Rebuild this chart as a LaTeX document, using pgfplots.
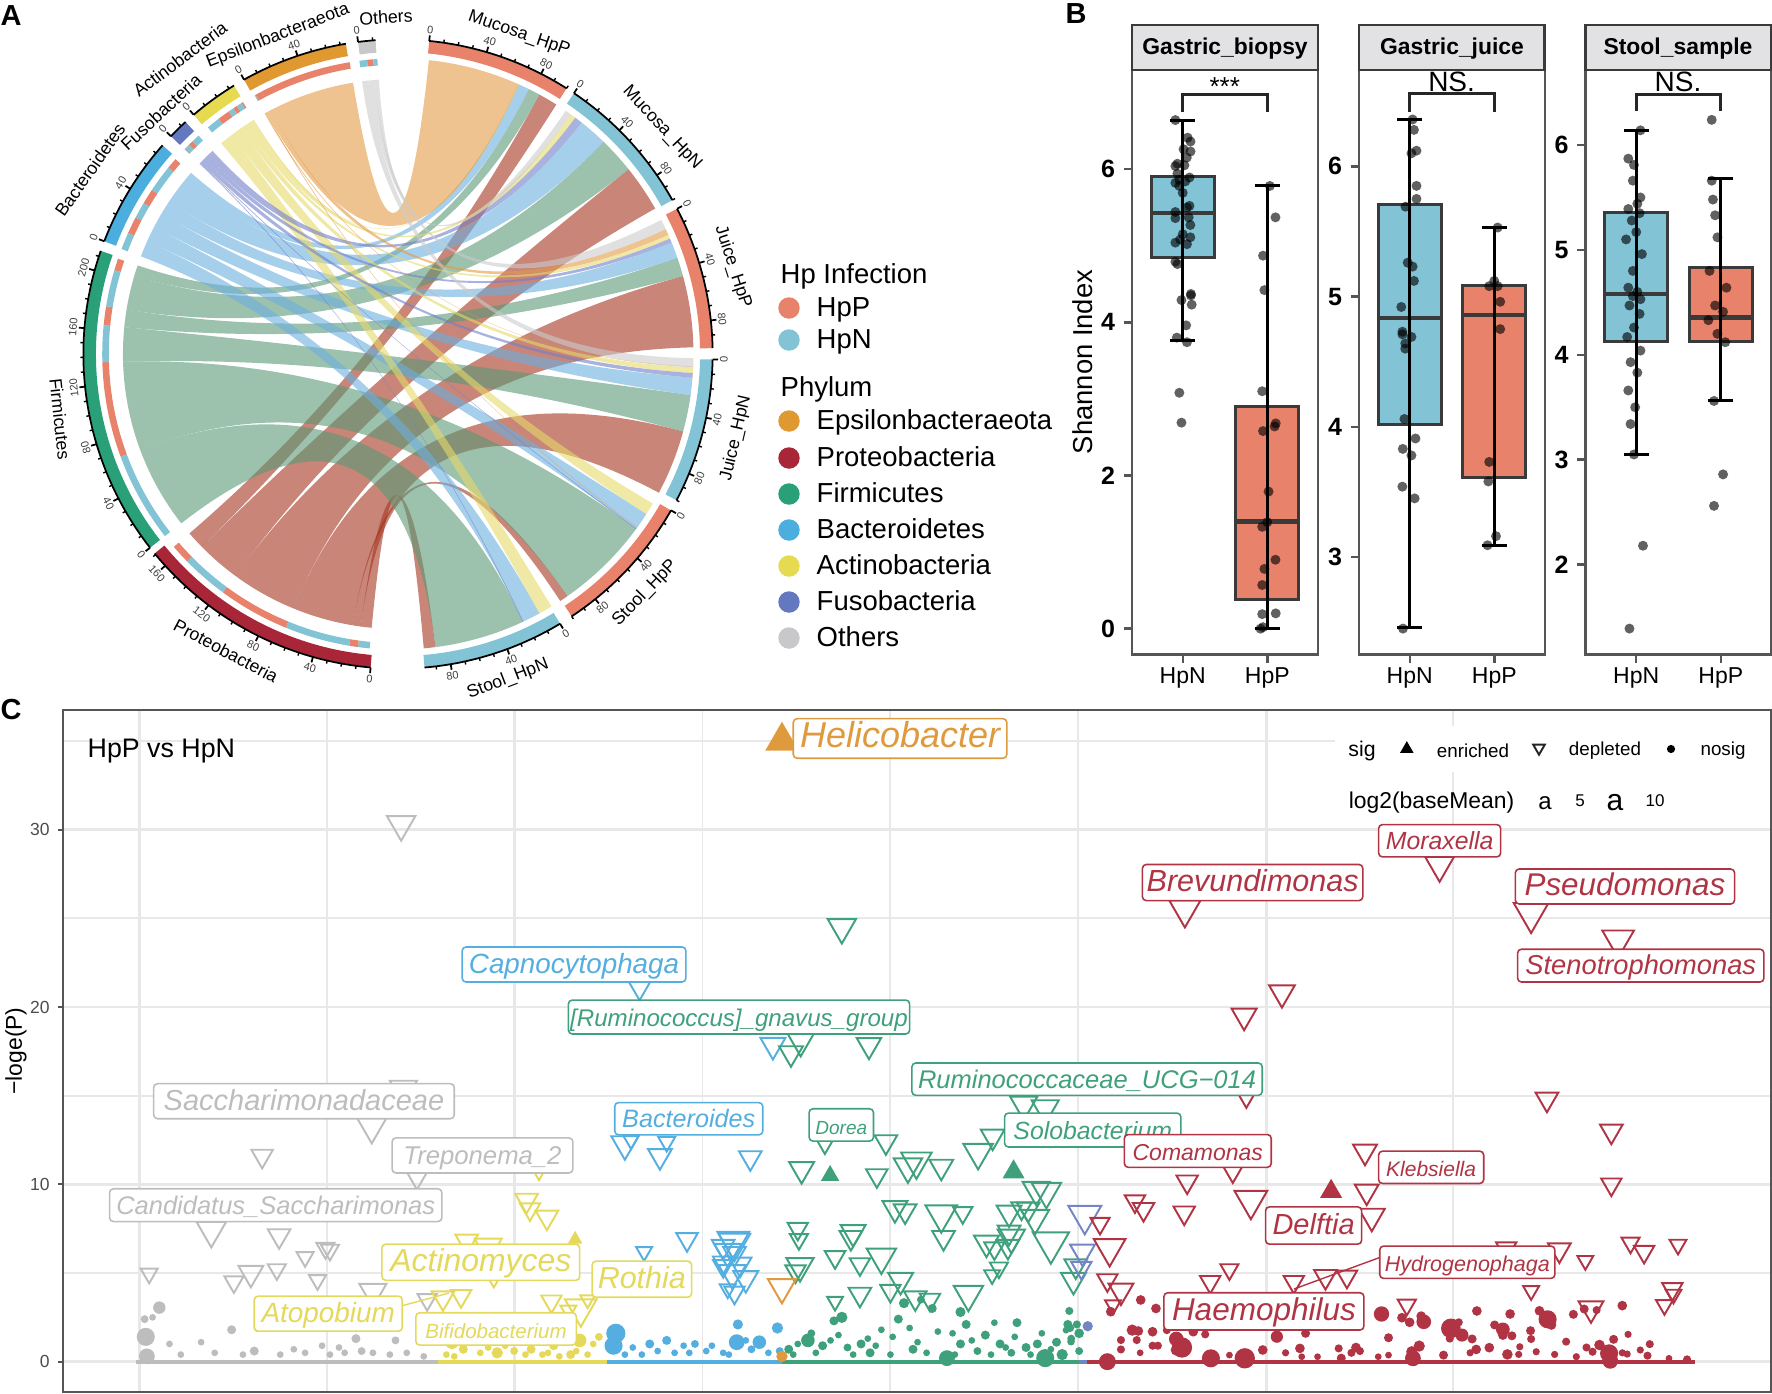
\documentclass[border=0pt]{standalone}
\usepackage{fontspec}
\setmainfont{Liberation Sans}
\usepackage{pgfplots}
\usepackage{pgfplotstable}
\pgfplotsset{compat=1.18}

% font size given in reference pixels (1 px = 0.1 mm)
\newcommand\fs[1]{\fontsize{\fpeval{#1*0.2845}pt}{\fpeval{#1*0.3}pt}\selectfont}

\definecolor{hpp}{HTML}{E8826B}
\definecolor{hpn}{HTML}{82C4D5}
\definecolor{cEps}{HTML}{E09830}
\definecolor{cPro}{HTML}{A82638}
\definecolor{cFir}{HTML}{2AA078}
\definecolor{cBac}{HTML}{4CADDF}
\definecolor{cAct}{HTML}{E5DA50}
\definecolor{cFus}{HTML}{6478C0}
\definecolor{cOth}{HTML}{C8C8CA}
\definecolor{rEps}{HTML}{E49B44}
\definecolor{rPro}{HTML}{A3341E}
\definecolor{rFir}{HTML}{5A9976}
\definecolor{rBac}{HTML}{6BAFDF}
\definecolor{rAct}{HTML}{E6D969}
\definecolor{rFus}{HTML}{707FCA}
\definecolor{rOth}{HTML}{CBCBCB}
\definecolor{tPro}{HTML}{B03444}
\definecolor{tFir}{HTML}{3FA07C}
\definecolor{tBac}{HTML}{54AEE0}
\definecolor{tAct}{HTML}{E4D95A}
\definecolor{tOth}{HTML}{BDBDBD}
\definecolor{tEps}{HTML}{E09A3E}
\definecolor{tFus}{HTML}{7385C5}
\definecolor{frame}{HTML}{555555}
\definecolor{boxg}{HTML}{3A3A3A}
\definecolor{stripg}{HTML}{E2E2E4}
\definecolor{gridg}{HTML}{E8E8E8}

% chord geometry: centre (398,354), radius 314 px, angles clockwise from north
\newcommand\PT[2]{(axis cs:{398+314*#1*sin(#2)},{354-314*#1*cos(#2)})}
\newcommand\ARC[4]{.. controls (axis cs:{398+314*#1*(sin(#2)+#4*cos(#2))},{354-314*#1*(cos(#2)-#4*sin(#2))}) and (axis cs:{398+314*#1*(sin(#3)-#4*cos(#3))},{354-314*#1*(cos(#3)+#4*sin(#3))}) .. \PT{#1}{#3}}
\newcommand\xpath[2]{\edef\tmppath{#2}\path[#1] \tmppath;}

% phylum a1 a2, sample b1 b2, ribbon colour, colour in the second track
\newcommand\ribbon[6]{\pgfplotsextra{%
  \pgfmathsetmacro\ka{4/3*tan((#2-#1)/4)}%
  \pgfmathsetmacro\kb{4/3*tan((#4-#3)/4)}%
  \pgfmathsetmacro\kc{-\ka}%
  \xpath{fill=#5,fill opacity=.6}{\PT{.876}{#1} \ARC{.876}{#1}{#2}{\ka} .. controls \PT{.292}{#2} and \PT{.3137}{#3} .. \PT{.941}{#3} \ARC{.941}{#3}{#4}{\kb} .. controls \PT{.3137}{#4} and \PT{.292}{#1} .. \PT{.876}{#1} -- cycle}%
  \xpath{fill=#6}{\PT{.942}{#1} \ARC{.942}{#1}{#2}{\ka} -- \PT{.921}{#2} \ARC{.921}{#2}{#1}{\kc} -- cycle}%
}}
% outer band with its axis; N = length in units
\newcommand\sector[3]{\pgfplotsextra{%
  \pgfmathsetmacro\endang{#1+#2*.267}%
  \pgfmathsetmacro\ka{4/3*tan((\endang-#1)/4)}%
  \pgfmathsetmacro\kc{-\ka}%
  \xpath{fill=#3}{\PT{1}{#1} \ARC{1}{#1}{\endang}{\ka} -- \PT{.962}{\endang} \ARC{.962}{\endang}{#1}{\kc} -- cycle}%
  \xpath{draw=black,line width=.5pt}{\PT{1.002}{#1} \ARC{1.002}{#1}{\endang}{\ka}}%
  \foreach \uu in {0,10,...,#2}{%
    \pgfmathsetmacro\tang{#1+\uu*.267}%
    \pgfmathtruncatemacro\mm{mod(\uu,40)}%
    \ifnum\mm=0
      \xpath{draw=black,line width=.5pt}{\PT{1.002}{\tang} -- \PT{1.02}{\tang}}%
      \pgfmathsetmacro\rott{\tang<90?-\tang:(\tang<250?180-\tang:360-\tang)}%
      \edef\lblpt{\PT{1.038}{\tang}}%
      \path \lblpt node[rotate=\rott,font=\fs{11},text=black!75,inner sep=0pt]{\uu};%
    \else
      \xpath{draw=black,line width=.4pt}{\PT{1.002}{\tang} -- \PT{1.012}{\tang}}%
    \fi
  }%
}}
\newcommand\tx[5]{\node[rotate=#3,font=\fs{#4},inner sep=0pt] at (axis cs:#1,#2) {#5};}
\newcommand\txl[4]{\node[anchor=west,font=\fs{#3},inner sep=0pt] at (axis cs:#1,#2) {\strut #4};}
\newcommand\lkey[2]{\addplot[only marks,mark=*,mark size=2.85pt,color=#2] coordinates {(789,#1)};}
% boxed italic labels of panel C, box centre and size in 1568-wide picture units
\newcommand\lab[7]{\node[draw=#6,text=#6,fill=white,rounded corners=1.1pt,line width=.45pt,inner sep=0pt,text height=.72em,text depth=.2em,minimum width=#3*.113mm,minimum height=#4*.113mm,font=\itshape\fs{#5}] at (axis cs:{#1*1.13},{#2*1.13}) {#7};}

% panel B: q1 median q3 lower upper
\newcommand\boxN[5]{%
  \addplot[fill=hpn,draw=boxg,line width=.85pt,line join=miter] coordinates {(.625,#1)(.625,#3)(1.375,#3)(1.375,#1)(.625,#1)(.625,#3)};
  \addplot[draw=boxg,line width=1.25pt] coordinates {(.625,#2)(1.375,#2)};
  \addplot[draw=black,line width=.85pt] coordinates {(1,#4)(1,#5)};
  \addplot[draw=black,line width=.85pt] coordinates {(.85,#4)(1.15,#4)};
  \addplot[draw=black,line width=.85pt] coordinates {(.85,#5)(1.15,#5)};
}
\newcommand\boxP[5]{%
  \addplot[fill=hpp,draw=boxg,line width=.85pt,line join=miter] coordinates {(1.625,#1)(1.625,#3)(2.375,#3)(2.375,#1)(1.625,#1)(1.625,#3)};
  \addplot[draw=boxg,line width=1.25pt] coordinates {(1.625,#2)(2.375,#2)};
  \addplot[draw=black,line width=.85pt] coordinates {(2,#4)(2,#5)};
  \addplot[draw=black,line width=.85pt] coordinates {(1.85,#4)(2.15,#4)};
  \addplot[draw=black,line width=.85pt] coordinates {(1.85,#5)(2.15,#5)};
}
\pgfplotsset{
  facet/.style={anchor=south west,scale only axis,width=18.6mm,height=58.45mm,
    xmin=.4,xmax=2.6,xtick={1,2},xticklabels={HpN,HpP},
    xtick pos=bottom,ytick pos=left,tick align=outside,major tick length=2.3pt,
    axis line style={draw=frame,line width=.6pt},tick style={draw=frame,line width=.7pt},
    /pgf/number format/assume math mode=true,
    xticklabel style={font=\fs{23},yshift=2pt},yticklabel style={font=\bfseries\fs{25},xshift=1pt},
    clip=false},
  jit/.style={only marks,mark=*,mark size=1.42pt,mark options={fill=black,draw opacity=0,fill opacity=.62}},
  tri/.style={only marks,scatter,scatter src=y,mark=triangle,
    scatter/use mapped color={draw=#1,fill=none},
    visualization depends on={\thisrow{s}*0.186 \as \ms},
    scatter/@pre marker code/.append style={/tikz/mark size=\ms},
    mark options={rotate=180,line width=.55pt}},
  dots/.style={only marks,scatter,scatter src=y,mark=*,
    scatter/use mapped color={draw=#1,fill=#1},
    visualization depends on={\thisrow{s}*0.3215 \as \ms},
    scatter/@pre marker code/.append style={/tikz/mark size=\ms},
    mark options={draw opacity=0}},
}

% panel B jitter points
\pgfplotstableread{
.913 6.64
1.058 6.41
1.092 6.36
1.01 6.26
1.092 6.23
1.048 6.15
.937 6.07
1.02 6.05
.913 6.04
.937 5.94
1.08 5.89
.96 5.86
1.03 5.84
.913 5.82
.96 5.78
1.0 5.69
1.08 5.52
1.05 5.50
.913 5.44
.913 5.36
1.07 5.37
1.09 5.27
1.0 5.15
1.09 5.11
.913 5.04
.97 5.08
1.05 5.02
.913 4.79
.937 4.76
1.097 4.35
1.097 4.37
.985 4.29
1.106 4.23
1.04 3.96
.93 3.80
1.05 3.74
.96 3.08
.985 2.69
2.03 5.78
2.097 5.37
1.95 4.87
1.966 4.42
1.94 3.10
2.10 2.68
2.087 2.64
1.95 2.58
2.015 1.79
2.0 1.39
1.94 1.33
2.097 .90
1.966 .78
1.94 .57
2.10 .20
1.94 .19
1.92 0
1.95 .02
}\ptsA
\pgfplotstableread{
1.034 6.36
1.05 6.28
1.08 6.12
1.02 6.10
1.08 5.85
1.08 5.75
.95 5.69
.976 5.26
1.034 5.23
1.05 5.12
.90 4.92
.913 4.73
.913 4.71
1.02 4.69
.947 4.64
.947 4.60
.937 4.06
1.068 3.91
.918 3.83
1.02 3.78
.913 3.54
1.058 3.45
.92 2.45
2.04 5.53
2 5.12
1.94 5.08
2.04 5.08
2.07 4.96
2.07 4.75
1.94 3.73
1.93 3.58
2.02 3.16
1.92 3.09
}\ptsB
\pgfplotstableread{
1.05 6.14
.906 5.87
.973 5.81
.96 5.66
1.05 5.5
1.013 5.44
.906 5.39
1.04 5.35
.947 5.28
1 5.17
.88 5.1
1.067 4.96
.96 4.8
.906 4.64
1.013 4.6
.96 4.56
1.05 4.53
.92 4.47
1.04 4.39
.973 4.26
.893 4.17
1.05 4.04
.933 3.93
1.013 3.83
.906 3.66
.987 3.5
.933 3.34
.973 3.05
1.08 2.18
.92 1.39
1.893 6.24
1.893 5.66
1.907 5.48
1.933 5.33
1.96 5.12
1.867 4.8
2.067 4.64
1.933 4.47
2.027 4.41
1.853 4.33
1.96 4.2
2.053 4.12
1.92 3.56
2.027 2.86
1.92 2.56
}\ptsC

% panel C: x in 1568-wide picture units, -log(P), base width or radius
\pgfplotstableread{
x y s
355 30.3 25
232 11.6 19
329 13.3 27
357 15.4 24
369 10.7 27
187 7.4 26
247 7.1 20
132 4.97 15
222 5.0 22
207 4.5 17
245 5.2 16
270 5.9 15
288 6.4 16
292 6.3 16
281 4.6 15
330 3.95 24
378 3.5 17
}\triOth
\pgfplotstableread{
x y s
466 9.1 20
469 8.6 18
484 8.15 20
477 10.6 10
413 6.8 20
432 6.5 24
408 3.7 18
392 3.6 20
437 4.7 14
488 3.4 18
520 3.5 13
514 3.0 28
503 2.9 14
}\triAct
\pgfplotstableread{
x y s
566 21.3 25
684 17.85 22
553 12.27 24
558.5 12.5 14
590 12.4 15
584 11.6 21
664 11.5 20
608 6.9 19
570 6.2 14
649 6.8 28
650 6.7 28
640 6.5 20
644 6.2 24
650 6.1 20
640 5.6 18
655 5.5 20
640 5.4 18
648 5.0 24
660 4.7 22
650 3.9 18
644 4.1 14
}\triBac
\pgfplotstableread{
x y s
745 24.5 25
708.6 18.1 24
700 17.4 21
769 17.85 21.5
730 12.3 16
784 12.4 20
709.4 10.85 22
776 10.5 19
803.5 11.0 25
811 11.3 27
833 11.0 21
865.6 11.8 26
878.5 12.7 21
906 14.5 24
925 14.3 24
917 9.7 24
926 9.6 26
706 7.5 18
707 6.9 16
755 7.3 22
753 7.0 20
792 8.65 22
801 8.5 20
833 8.3 28
852 8.4 17
835 7.0 20
893 8.4 22
904 8.65 18
916 8.1 25
893 7.3 20
873 6.7 22
880 6.4 18
895 7.0 24
892 6.5 20
878 4.9 14
884 5.3 16
930 6.7 32
910 8.6 20
950 4.6 22
952 5.4 20
857 3.8 26
823 3.5 18
780 5.9 26
739 5.9 18
761 5.5 18
708 5.4 24
704 5.1 18
797 4.6 22
788 4.0 18
761 3.8 20
739 3.4 14
810 3.6 20
}\triFir
\pgfplotstableread{
x y s
960 8.25 29
958 6.2 22
957 5.3 18
}\triFus
\pgfplotstableread{
x y s
973.5 7.8 17
1004.4 9.05 18
1012 8.6 19
1050.6 10.15 19
1048 8.4 19
1091 10.7 17
1107 9.1 29
1208 11.85 21
1209.5 9.6 21
1214 8.2 23
1103 14.9 16
1369 14.8 20
1048.6 25.5 27.5
1274 28.0 25.5
1355 25.3 30.7
1432 23.8 28
1134.5 20.8 22.6
1101 19.5 22
1426 13.0 20
1426 10.0 18
1443 6.7 16
1455 6.2 18
1485 6.6 15
1403 5.7 14
1380 6.3 20
1333 6.4 18
1480 4.1 18
1481 3.8 14
1473 3.2 15
1408 3.0 22
1245 3.2 16
1173 4.8 20
1192 4.8 18
1145 4.5 18
1088 5.2 16
1071 4.5 18
1360 5.4 12
1355 4.0 14
982 6.4 28
980 4.6 18
992 4.0 22
985 3.2 14
}\triPro
\pgfplotstableread{
x y s
129 1.4 8
141 3.05 5.5
135 2.5 3
128 2.4 3.5
130 0.3 7
150 1 3
178 1.1 3
205 1.8 4
225 .6 4
228 1.9 3.5
248 0.4 3
270 .5 3
285 .9 3
300 .8 3
315 1.3 4
320 .6 3.5
305 .5 3
345 .4 3
350 1.2 3.5
360 .5 3
375 .3 3
160 .4 3
190 .5 3
215 .4 3
260 .7 3
292 .4 3
330 .5 3
}\dotOth
\pgfplotstableread{
x y s
400 1.1 6
410 .7 4
425 .5 3
440 .5 5
455 .6 3.5
470 .7 4
480 .4 3
490 .9 4
500 1.3 4
513 1.2 6
520 .4 3
530 1.4 3.5
505 .4 4
395 .4 3
460 1.5 3
402 .3 3
415 1.2 3
432 .8 3
447 .9 3
465 .4 3
475 1.2 3
485 .5 3
495 .3 3
510 .6 3
525 1.0 3
}\dotAct
\pgfplotstableread{
x y s
545 1.6 8.5
543 .9 8
560 .8 3
575 1.0 4
590 1.2 4
605 .9 3
615 1.0 3.5
625 .6 3
640 .5 3
652 1.1 7
653 2.1 4.5
672 1.1 6
688 1.9 5
690 .6 3.5
665 .7 3.5
610 .5 3
553 .4 3
568 .4 3
582 .6 3
597 .5 3
630 .9 3
645 .4 3
660 1.2 3
680 .5 3
}\dotBac
\pgfplotstableread{
x y s
698 .7 4
702 .4 3
715 1.2 6
718 1.6 3.5
728 .9 4
738 2.3 4
745 2.5 5
750 .8 3.5
762 1.0 4
770 .5 4
780 1.8 3
795 2.4 4
800 3.3 4.5
808 .7 4
815 3.5 3.5
825 3 4
838 .2 7
850 2.8 4.5
855 2.1 4
850 1 4
865 .6 3.5
872 1.5 4
885 1.0 4
895 .5 3.5
900 2.2 4
908 .8 4
918 1.0 4
925 .2 8
935 1.1 4
945 2.1 4
948 1.3 3.5
940 .4 5
955 .6 3.5
706 1.0 3
722 .5 3
735 1.2 3
742 1.5 3
755 .4 3
768 1.3 3
775 .9 3
788 .4 3
790 1.4 3
805 1.9 3
812 1.1 3
820 .5 3
830 1.7 3
845 .4 3
843 1.6 3
860 1.2 3
877 .4 3
880 2.2 3
890 .8 3
898 1.4 3
912 .4 3
922 1.6 3
930 .7 3
946.3 2.86 3.6
953 2.1 3.6
947 1.9 3.6
943.4 1.78 3
955 1.6 4.3
947.8 1.13 3.4
}\dotFir
\pgfplotstableread{
x y s
980 0 7.5
983 2.82 4.3
1009.5 3.48 4.3
1023 3.0 4.3
992 1.22 3.6
992 .69 3.6
1002 1.78 5
1007.4 1.73 4.3
1020 1.69 4.3
1032.6 1.78 3.6
1006 1.22 3.6
1009 .5 3
1020 .9 3.6
1024.7 .9 3.6
1041 1.28 6.5
1046 .8 9
1041 .66 5
1056 1.69 4.3
1066.6 1.54 3.6
1071.6 .19 8
1088 .37 3
1101.6 .19 9
1117.5 .66 4.3
1130 1.41 5.4
1137.7 .5 3.2
1155.4 1.6 4
1150.4 .75 4.3
1152 .28 3
1166 .28 3
1184.7 .75 3.6
1187 .2 4
1200 .8 4.3
1196 .5 3.6
1203.5 .6 3.6
1228.8 1.35 4
1219.7 .28 3
1228.8 .37 3
1222.6 2.69 6.8
1240.7 2.48 4.3
1247.5 2.22 4.3
1257.7 2.57 4.3
1260 2.25 6.5
1256 .88 5
1249.4 .56 5
1250.4 .19 7
1277.5 .37 4
1284 1.88 8.7
1293.8 1.5 5.8
1291 2.22 3.6
1283 1.3 3.6
1302.8 1.28 4
1307 2.86 4.3
1306.4 .69 4.3
1301 .5 3.2
1318 .79 4.3
1334 .41 4.7
1336.4 2.69 4.3
1322.7 2.07 4
1330 1.82 6.1
1338 1.46 4
1330 1.5 4.3
1345 .84 3.2
1344 .41 3.2
1354.5 1.75 4
1355 1.28 3.6
1359.5 .56 3.2
1362.4 2.87 4.3
1369.6 2.39 8
1373 2.07 4.3
1392.4 2.67 4
1402 2.97 4
1413 2.91 3.6
1435.7 3.16 4.3
1386 1.13 3.6
1375.8 .41 3.2
1415.5 .94 4.7
1428 1.26 4
1440.8 1.54 3.2
1404 .8 3.6
1409.4 .56 3.6
1424 .47 8
1425 .05 7
1435.7 .5 3.2
1440 .43 3.2
1451.6 .66 3.2
1460 .99 3.6
1458 .34 3.6
1477 .19 3
1493 .13 3.6
1395 .28 3.2
}\dotPro

\begin{document}
\begin{tikzpicture}
\path[use as bounding box] (0,0) rectangle (177.2mm,139.3mm);

% ---- panel C
\begin{axis}[at={(6.3mm,.1mm)},anchor=south west,scale only axis,width=170.8mm,height=68.2mm,
  xmin=55.75,xmax=1567.3,ymin=-1.71,ymax=36.75,
  xtick={123.6,455.5,787.6,1120.7},minor xtick={289.4,621.7,953.7,1286},xticklabels={},
  ytick={0,10,20,30},minor ytick={5,15,25,35},
  grid=both,major grid style={draw=gridg,line width=.8pt},minor grid style={draw=gridg,line width=.5pt},
  xtick style={draw=none},minor tick length=0pt,ytick pos=left,tick align=outside,
  ytick style={draw=frame,line width=.6pt},major tick length=1.5pt,
  axis line style={draw=frame,line width=.6pt},
  /pgf/number format/assume math mode=true,
  yticklabel style={font=\fs{17.5},text=black!70,xshift=1.2pt},
  axis on top=false]
\addplot[tOth,line width=1.1pt] coordinates {(120,0)(388,0)};
\addplot[tAct,line width=1.1pt] coordinates {(388,0)(537,0)};
\addplot[tBac,line width=1.1pt] coordinates {(537,0)(692,0)};
\addplot[tFir,line width=1.1pt] coordinates {(692,0)(958,0)};
\addplot[tFus,line width=1.1pt] coordinates {(955,0)(962,0)};
\addplot[tPro,line width=1.1pt] coordinates {(962,0)(1500,0)};
\addplot[dots=tOth] table[x=x,y=y] {\dotOth};
\addplot[dots=tAct] table[x=x,y=y] {\dotAct};
\addplot[dots=tBac] table[x=x,y=y] {\dotBac};
\addplot[dots=tFir] table[x=x,y=y] {\dotFir};
\addplot[dots=tPro] table[x=x,y=y] {\dotPro};
\addplot[only marks,mark=*,mark size=1.25pt,color=tFus] coordinates {(962.6,2.0)};
\addplot[only marks,mark=*,mark size=1.4pt,color=tEps] coordinates {(692,.3)};
\addplot[tri=tOth] table[x=x,y=y] {\triOth};
\addplot[tri=tAct] table[x=x,y=y] {\triAct};
\addplot[tri=tBac] table[x=x,y=y] {\triBac};
\addplot[tri=tFir] table[x=x,y=y] {\triFir};
\addplot[tri=tFus] table[x=x,y=y] {\triFus};
\addplot[tri=tPro] table[x=x,y=y] {\triPro};
\addplot[only marks,mark=triangle,mark size=4.6pt,color=tEps,mark options={rotate=180,line width=.55pt}] coordinates {(692,4.2)};
\addplot[only marks,mark=triangle*,mark size=5.1pt,color=tEps] coordinates {(692,35.0)};
\addplot[only marks,mark=triangle*,mark size=2.6pt,color=tFir] coordinates {(734.6,10.5)};
\addplot[only marks,mark=triangle*,mark size=3.2pt,color=tFir] coordinates {(897,10.7)};
\addplot[only marks,mark=triangle*,mark size=3.2pt,color=tPro] coordinates {(1178,9.6)};
\addplot[only marks,mark=triangle*,mark size=2pt,color=tAct] coordinates {(509,6.9)};
\end{axis}

% ---- panel B
\begin{axis}[facet,at={(113.2mm,73.85mm)},ymin=-.337,ymax=7.294,ytick={0,2,4,6}]
\boxN{4.84}{5.43}{5.90}{3.76}{6.64}
\boxP{.375}{1.40}{2.90}{0}{5.78}
\addplot[jit] table {\ptsA};
\addplot[draw=black!85,line width=.85pt] coordinates {(1,6.75)(1,6.98)(2,6.98)(2,6.75)};
\end{axis}
\begin{axis}[facet,at={(135.9mm,73.85mm)},ymin=2.251,ymax=6.74,ytick={3,4,5,6}]
\boxN{4.02}{4.833}{5.705}{2.455}{6.358}
\boxP{3.612}{4.86}{5.085}{3.09}{5.528}
\addplot[jit] table {\ptsB};
\addplot[draw=black!85,line width=.85pt] coordinates {(1,6.42)(1,6.556)(2,6.556)(2,6.42)};
\end{axis}
\begin{axis}[facet,at={(158.55mm,73.85mm)},ymin=1.143,ymax=6.715,ytick={2,3,4,5,6}]
\boxN{4.13}{4.58}{5.357}{3.05}{6.14}
\boxP{4.13}{4.355}{4.83}{3.56}{5.68}
\addplot[jit] table {\ptsC};
\addplot[draw=black!85,line width=.85pt] coordinates {(1,6.32)(1,6.486)(2,6.486)(2,6.32)};
\end{axis}

% ---- page overlay in reference pixels: panel A, legends, labels
\begin{axis}[at={(0mm,0mm)},anchor=south west,scale only axis,width=177.2mm,height=139.3mm,
  xmin=0,xmax=1772,ymin=0,ymax=1393,y dir=reverse,hide axis,clip=false]

% chords
\ribbon{185.5}{187.8}{172.7}{175}{rPro}{hpn}
\ribbon{187.8}{189.5}{145}{146.7}{rPro}{hpp}
\ribbon{189.5}{202.3}{105.2}{118}{rPro}{hpn}
\ribbon{202.3}{216.3}{74.7}{88.7}{rPro}{hpp}
\ribbon{216.3}{225.5}{51.3}{60.5}{rPro}{hpn}
\ribbon{225.5}{229.3}{28.6}{32.4}{rPro}{hpp}
\ribbon{232}{249.7}{155}{172.7}{rFir}{hpn}
\ribbon{249.7}{268.4}{126.3}{145}{rFir}{hpp}
\ribbon{268.4}{275.6}{98}{105.2}{rFir}{hpn}
\ribbon{275.6}{279.3}{71}{74.7}{rFir}{hpp}
\ribbon{279.3}{286.5}{44.1}{51.3}{rFir}{hpn}
\ribbon{286.5}{288.8}{26.3}{28.6}{rFir}{hpp}
\ribbon{290.8}{294.2}{151.4}{155}{rBac}{hpn}
\ribbon{294.2}{297.5}{122.8}{126.3}{rBac}{hpp}
\ribbon{297.5}{300.7}{94.6}{98}{rBac}{hpn}
\ribbon{300.7}{303.7}{67.8}{71}{rBac}{hpp}
\ribbon{303.7}{309.1}{38.4}{44.1}{rBac}{hpn}
\ribbon{309.1}{311.2}{24.1}{26.3}{rBac}{hpp}
\ribbon{320}{322.7}{148.7}{151.4}{rAct}{hpn}
\ribbon{322.7}{325.1}{120.4}{122.8}{rAct}{hpp}
\ribbon{325.1}{326.2}{92.6}{93.7}{rAct}{hpn}
\ribbon{326.2}{327}{66.2}{67}{rAct}{hpp}
\ribbon{327}{328.1}{35.8}{36.9}{rAct}{hpn}
\ribbon{328.1}{328.4}{24}{24.2}{rAct}{hpp}
\ribbon{313.8}{314}{154.9}{155.05}{rFus}{hpn}
\ribbon{314}{314.2}{126.2}{126.35}{rFus}{hpp}
\ribbon{314.2}{315.1}{93.7}{94.6}{rFus}{hpn}
\ribbon{315.1}{316}{67}{67.8}{rFus}{hpp}
\ribbon{316}{317.6}{36.9}{38.4}{rFus}{hpn}
\ribbon{331}{331.2}{92.4}{92.5}{rEps}{hpn}
\ribbon{331.2}{331.4}{125.9}{126}{rEps}{hpp}
\ribbon{331.4}{332.5}{65}{66.2}{rEps}{hpp}
\ribbon{332.5}{350.6}{6}{24.1}{rEps}{hpp}
\ribbon{352.5}{354}{90.8}{92.6}{rOth}{hpn}
\ribbon{354}{355.2}{63}{65}{rOth}{hpp}
\ribbon{355.2}{356}{34.6}{35.8}{rOth}{hpn}

% sectors: start angle, length in units, colour
\sector{5.7}{100}{hpp}
\sector{34}{100}{hpn}
\sector{62.5}{99}{hpp}
\sector{91}{100}{hpn}
\sector{119.8}{100}{hpp}
\sector{149}{98}{hpn}
\sector{185}{171}{cPro}
\sector{232}{214}{cFir}
\sector{291}{77}{cBac}
\sector{313.8}{14}{cFus}
\sector{319.5}{34}{cAct}
\sector{330.7}{74}{cEps}
\sector{352.7}{12}{cOth}

\tx{519}{34}{-19}{17.7}{Mucosa\_HpP}
\tx{662}{128}{-47}{17.7}{Mucosa\_HpN}
\tx{733}{267}{-72}{17.7}{Juice\_HpP}
\tx{736}{438}{77}{17.7}{Juice\_HpN}
\tx{645}{593}{46}{17.7}{Stool\_HpP}
\tx{508}{679}{21}{17.7}{Stool\_HpN}
\tx{226}{651}{-28}{17.7}{Proteobacteria}
\tx{60}{419}{-84}{17.7}{Firmicutes}
\tx{90}{170}{55}{17.7}{Bacteroidetes}
\tx{161}{112}{43}{17.7}{Fusobacteria}
\tx{180}{59}{37}{17.7}{Actinobacteria}
\tx{278}{36}{21}{17.7}{Epsilonbacteraeota}
\tx{386}{17}{4}{17.7}{Others}

% panel letters
\node[font=\bfseries\fs{29},inner sep=0pt] at (axis cs:11,16) {A};
\node[font=\bfseries\fs{29},inner sep=0pt] at (axis cs:1076,14) {B};
\node[font=\bfseries\fs{29},inner sep=0pt] at (axis cs:11,709) {C};

% legend of panel A
\txl{780}{278}{27.5}{Hp Infection}
\txl{816}{311}{27.5}{HpP}
\txl{816}{343}{27.5}{HpN}
\txl{780}{391}{27.5}{Phylum}
\txl{816}{424}{27.5}{Epsilonbacteraeota}
\txl{816}{461}{27.5}{Proteobacteria}
\txl{816}{497}{27.5}{Firmicutes}
\txl{816}{533}{27.5}{Bacteroidetes}
\txl{816}{569}{27.5}{Actinobacteria}
\txl{816}{605}{27.5}{Fusobacteria}
\txl{816}{641}{27.5}{Others}
\lkey{308}{hpp}
\lkey{340}{hpn}
\lkey{421}{cEps}
\lkey{458}{cPro}
\lkey{494}{cFir}
\lkey{530}{cBac}
\lkey{566}{cAct}
\lkey{602}{cFus}
\lkey{638}{cOth}

% strips of panel B
\addplot[fill=stripg,draw=boxg,line width=.7pt] coordinates {(1132,25)(1318,25)(1318,70)(1132,70)(1132,25)(1318,25)};
\addplot[fill=stripg,draw=boxg,line width=.7pt] coordinates {(1359,25)(1544.7,25)(1544.7,70)(1359,70)(1359,25)(1544.7,25)};
\addplot[fill=stripg,draw=boxg,line width=.7pt] coordinates {(1585.5,25)(1771,25)(1771,70)(1585.5,70)(1585.5,25)(1771,25)};
\node[font=\bfseries\fs{22.9},inner sep=0pt] at (axis cs:1225,49) {Gastric\_biopsy};
\node[font=\bfseries\fs{22.9},inner sep=0pt] at (axis cs:1452,49) {Gastric\_juice};
\node[font=\bfseries\fs{22.9},inner sep=0pt] at (axis cs:1678,49) {Stool\_sample};
\tx{1083}{362}{90}{27.4}{Shannon Index}
\tx{1224.7}{87}{0}{26}{***}
\tx{1451.6}{82}{0}{28}{NS.}
\tx{1678}{82}{0}{28}{NS.}

% panel C text
\tx{16}{1051}{90}{22.9}{−loge(P)}
\txl{87}{752}{26.8}{HpP vs HpN}
\addplot[fill=white,draw=none] coordinates {(1335,726)(1770,726)(1770,772)(1335,772)};
\tx{1362}{751}{0}{21.3}{sig}
\tx{1473}{751}{0}{18.8}{enriched}
\tx{1605}{751}{0}{18.8}{depleted}
\tx{1723}{751}{0}{18.8}{nosig}
\addplot[only marks,mark=triangle*,mark size=1.85pt,color=black] coordinates {(1406.8,749)};
\addplot[only marks,mark=triangle,mark size=1.9pt,color=black!85,mark options={rotate=180,line width=.55pt}] coordinates {(1539,748)};
\addplot[only marks,mark=*,mark size=.95pt,color=black] coordinates {(1671,749)};
\tx{1431.5}{803}{0}{22.9}{log2(baseMean)}
\tx{1545}{803}{0}{24}{a}
\tx{1580}{801}{0}{17}{5}
\tx{1615}{803}{0}{30}{a}
\tx{1655}{801}{0}{17}{10}

% connectors
\addplot[tAct,line width=.4pt] coordinates {(390,1309)(449,1293)};
\addplot[tPro,line width=.4pt] coordinates {(1381,1257)(1294,1289)};

% gene labels
\lab{796.5}{653.5}{189}{35}{36}{tEps}{Helicobacter}
\lab{508}{853.5}{198}{31}{27.8}{tBac}{Capnocytophaga}
\lab{654}{900}{302}{30}{24.1}{tFir}{[Ruminococcus]\_gnavus\_group}
\lab{1108.5}{781}{195}{32}{30.5}{tPro}{Brevundimonas}
\lab{1274}{744}{108}{28}{24.8}{tPro}{Moraxella}
\lab{1438}{784.5}{194}{31}{31.4}{tPro}{Pseudomonas}
\lab{1452}{854.5}{218}{29}{27.3}{tPro}{Stenotrophomonas}
\lab{962}{955}{310}{28}{25.5}{tFir}{Ruminococcaceae\_UCG−014}
\lab{967}{1000}{156}{30}{24.8}{tFir}{Solobacterium}
\lab{609.5}{990}{131}{28}{25.2}{tBac}{Bacteroides}
\lab{744.5}{995.5}{57}{25}{19}{tFir}{Dorea}
\lab{269}{974.5}{266}{31}{29}{tOth}{Saccharimonadaceae}
\lab{427}{1022.5}{160}{31}{25.7}{tOth}{Treponema\_2}
\lab{244}{1066.5}{294}{29}{25.5}{tOth}{Candidatus\_Saccharimonas}
\lab{425.5}{1117}{175}{32}{31.9}{tAct}{Actinomyces}
\lab{568}{1132}{88}{32}{30.5}{tAct}{Rothia}
\lab{290.5}{1162.5}{131}{31}{27.9}{tAct}{Atopobium}
\lab{439}{1176}{142}{26}{20.5}{tAct}{Bifidobacterium}
\lab{1060}{1018.5}{130}{29}{23}{tPro}{Comamonas}
\lab{1266.5}{1033}{93}{28}{21}{tPro}{Klebsiella}
\lab{1162.5}{1084.5}{85}{33}{29}{tPro}{Delftia}
\lab{1118.5}{1160.5}{177}{33}{31.5}{tPro}{Haemophilus}
\lab{1298.5}{1117}{155}{26}{21.5}{tPro}{Hydrogenophaga}
\end{axis}
\end{tikzpicture}
\end{document}
